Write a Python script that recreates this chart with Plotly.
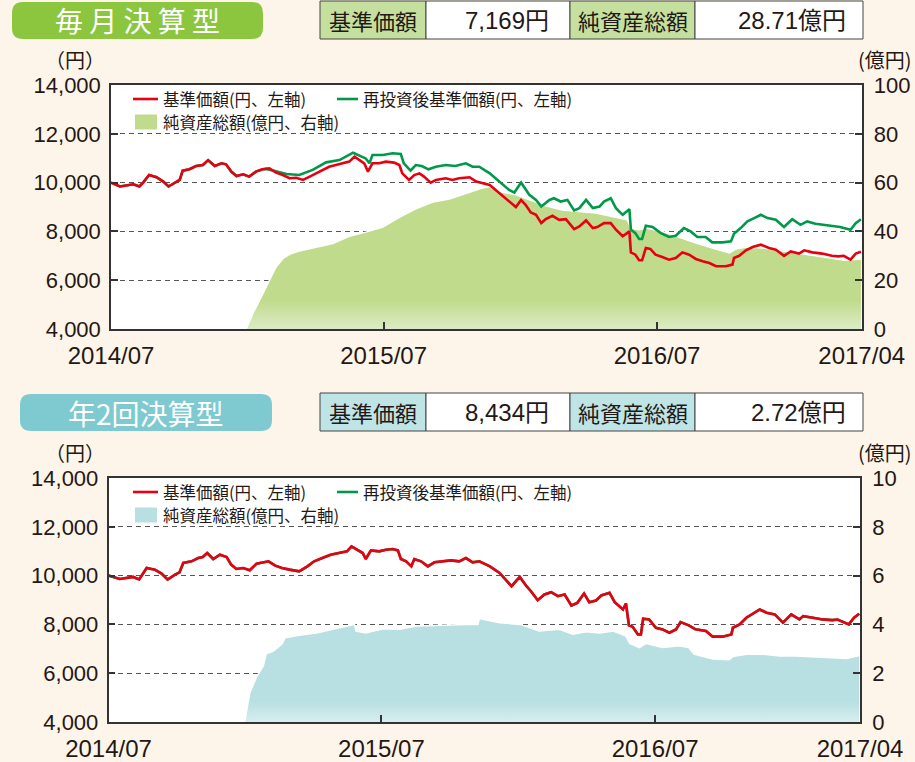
import plotly.graph_objects as go

W, H = 915, 762
BG = "#fdf5e9"
RED = "#e60012"
GREEN = "#00994a"
AREA_G = "#c1db8c"
AREA_G_LIGHT = "#dcebc6"
AREA_T = "#b8dfe1"
AREA_T_LIGHT = "#d8eef0"
BADGE_G = "#8cc63f"
BADGE_T = "#7ecad0"
HEAD_G = "#c5e09e"
HEAD_T = "#bfe4e6"

# ---------------- data: 毎月決算型 ----------------
m_nav_dates = ["2014-07-01", "2014-07-13", "2014-07-31", "2014-08-08", "2014-08-13", "2014-08-21", "2014-08-31",
               "2014-09-09", "2014-09-16", "2014-09-24", "2014-10-01", "2014-10-05", "2014-10-14", "2014-10-23",
               "2014-11-01", "2014-11-08", "2014-11-17", "2014-11-26", "2014-12-02", "2014-12-09", "2014-12-16",
               "2014-12-25", "2015-01-02", "2015-01-11", "2015-01-20", "2015-01-29", "2015-02-07", "2015-02-16",
               "2015-02-25", "2015-03-06", "2015-03-15", "2015-03-24", "2015-04-02", "2015-04-10", "2015-04-19",
               "2015-04-28", "2015-05-07", "2015-05-16", "2015-05-23", "2015-05-30", "2015-06-05", "2015-06-10",
               "2015-06-16", "2015-06-25", "2015-07-04", "2015-07-15", "2015-07-22", "2015-07-26", "2015-08-04",
               "2015-08-11", "2015-08-18", "2015-08-24", "2015-09-02", "2015-09-09", "2015-09-22", "2015-10-01",
               "2015-10-10", "2015-10-24", "2015-11-02", "2015-11-20", "2015-12-03", "2015-12-16", "2015-12-25",
               "2016-01-01", "2016-01-07", "2016-01-14", "2016-01-21", "2016-01-28", "2016-02-03", "2016-02-12",
               "2016-02-21", "2016-03-01", "2016-03-12", "2016-03-19", "2016-03-28", "2016-04-06", "2016-04-12",
               "2016-04-21", "2016-04-30", "2016-05-07", "2016-05-16", "2016-05-25", "2016-05-27", "2016-06-02",
               "2016-06-07", "2016-06-11", "2016-06-16", "2016-06-22", "2016-06-29", "2016-07-08", "2016-07-17",
               "2016-07-26", "2016-08-04", "2016-08-13", "2016-08-22", "2016-08-31", "2016-09-09", "2016-09-18",
               "2016-10-01", "2016-10-10", "2016-10-12", "2016-10-19", "2016-10-28", "2016-11-06", "2016-11-17",
               "2016-11-28", "2016-12-07", "2016-12-18", "2016-12-27", "2017-01-07", "2017-01-14", "2017-01-25",
               "2017-02-07", "2017-02-20", "2017-03-01", "2017-03-08", "2017-03-17", "2017-03-24", "2017-03-31"]
m_nav = [10000, 9840, 9930, 9840, 10000, 10310, 10220,
         10040, 9840, 10000, 10110, 10490, 10550, 10680,
         10720, 10920, 10680, 10790, 10750, 10450, 10270,
         10340, 10245, 10450, 10545, 10585, 10410, 10310,
         10180, 10200, 10110, 10245, 10380, 10520, 10650,
         10720, 10790, 10860, 11060, 10920, 10790, 10450,
         10790, 10790, 10860, 10820, 10720, 10380, 10110,
         10310, 10380, 10245, 10000, 10110, 10180, 10110,
         10180, 10220, 10040, 9900, 9565, 9225, 9000,
         9290, 9090, 8775, 8680, 8340, 8500, 8640,
         8475, 8500, 8095, 8200, 8450, 8135, 8180,
         8340, 8340, 8070, 7800, 8000, 7140, 7045,
         6815, 6815, 7320, 7280, 7045, 6950, 6840,
         6910, 7140, 7045, 6870, 6775, 6705, 6570,
         6570, 6640, 6910, 7000, 7225, 7360, 7455,
         7320, 7250, 7000, 7180, 7090, 7225, 7140,
         7090, 7000, 6975, 7000, 6840, 7090, 7169]

# 再投資後基準価額: identical to 基準価額 until 2015-01-20, then diverges
m_reinv_start = "2015-01-20"
m_reinv_dates = ["2015-01-25", "2015-02-21", "2015-03-10", "2015-03-28", "2015-04-15", "2015-05-03", "2015-05-21",
                 "2015-05-30", "2015-06-07", "2015-06-12", "2015-06-16", "2015-06-30", "2015-07-13", "2015-07-24",
                 "2015-07-28", "2015-08-06", "2015-08-13", "2015-08-21", "2015-08-30", "2015-09-09", "2015-09-22",
                 "2015-10-05", "2015-10-19", "2015-10-28", "2015-11-06", "2015-11-20", "2015-12-03", "2015-12-16",
                 "2015-12-23", "2016-01-01", "2016-01-12", "2016-01-21", "2016-01-28", "2016-02-08", "2016-02-14",
                 "2016-02-23", "2016-03-03", "2016-03-12", "2016-03-19", "2016-03-28", "2016-04-06", "2016-04-15",
                 "2016-04-21", "2016-04-30", "2016-05-07", "2016-05-16", "2016-05-25", "2016-05-27", "2016-06-02",
                 "2016-06-07", "2016-06-11", "2016-06-16", "2016-06-25", "2016-07-06", "2016-07-17", "2016-07-26",
                 "2016-08-06", "2016-08-15", "2016-08-24", "2016-09-04", "2016-09-13", "2016-09-27", "2016-10-08",
                 "2016-10-12", "2016-10-21", "2016-10-30", "2016-11-08", "2016-11-17", "2016-11-26", "2016-12-07",
                 "2016-12-18", "2016-12-29", "2017-01-09", "2017-01-18", "2017-01-29", "2017-02-11", "2017-02-24",
                 "2017-03-03", "2017-03-17", "2017-03-24", "2017-03-31"]
m_reinv = [10560, 10350, 10310, 10520, 10830, 10925, 11225,
           11090, 10990, 10790, 11130, 11130, 11200, 11170,
           10790, 10490, 10720, 10680, 10545, 10650, 10720,
           10680, 10790, 10650, 10650, 10380, 10040, 9700,
           9590, 10000, 9500, 9290, 9020, 9290, 9360,
           9225, 9290, 8860, 8955, 9290, 8955, 9020,
           9225, 9360, 8955, 8680, 8910, 8070, 7930,
           7690, 7690, 8230, 8180, 7930, 7770, 7820,
           8135, 8000, 7770, 7770, 7550, 7550, 7590,
           7900, 8135, 8410, 8545, 8680, 8545, 8475,
           8180, 8500, 8270, 8410, 8310, 8270, 8230,
           8180, 8070, 8340, 8500]

m_aum_dates = ["2014-12-29", "2015-01-07", "2015-01-16", "2015-01-25", "2015-01-29", "2015-02-07", "2015-02-16",
               "2015-02-25", "2015-03-10", "2015-04-02", "2015-04-24", "2015-05-16", "2015-06-07", "2015-06-30",
               "2015-07-22", "2015-08-13", "2015-09-05", "2015-09-27", "2015-10-19", "2015-11-10", "2015-11-20",
               "2015-12-03", "2015-12-25", "2016-01-12", "2016-02-03", "2016-02-25", "2016-03-19", "2016-04-10",
               "2016-05-02", "2016-05-22", "2016-05-27", "2016-06-07", "2016-06-16", "2016-07-08", "2016-07-30",
               "2016-08-22", "2016-09-13", "2016-10-06", "2016-10-15", "2016-10-28", "2016-11-20", "2016-12-12",
               "2017-01-03", "2017-01-25", "2017-02-16", "2017-03-10", "2017-03-31"]
m_aum = [0, 6.4, 11.8, 17.3, 20, 25.4, 28.8,
         30.6, 32, 33.6, 35, 38, 39.7, 41.8,
         45.8, 49.3, 52, 53.3, 55.4, 57.8, 58.4,
         56.3, 55, 53, 50.5, 48.8, 48.2, 47.5,
         46.1, 44.8, 41.4, 40.7, 41.4, 40, 37.7,
         35.2, 33.2, 31.2, 32.8, 33.6, 33.2, 32.2,
         31.2, 30.1, 29.2, 28.2, 28.71]

# ---------------- data: 年2回決算型 ----------------
s_nav_dates = ["2014-07-01", "2014-07-16", "2014-08-03", "2014-08-11", "2014-08-21", "2014-09-01", "2014-09-10",
               "2014-09-18", "2014-09-28", "2014-10-04", "2014-10-09", "2014-10-20", "2014-10-29", "2014-11-04",
               "2014-11-10", "2014-11-18", "2014-11-27", "2014-12-06", "2014-12-12", "2014-12-19", "2014-12-28",
               "2015-01-06", "2015-01-15", "2015-01-24", "2015-01-31", "2015-02-09", "2015-02-18", "2015-02-28",
               "2015-03-13", "2015-03-24", "2015-04-02", "2015-04-13", "2015-04-24", "2015-05-05", "2015-05-16",
               "2015-05-22", "2015-05-30", "2015-06-06", "2015-06-10", "2015-06-17", "2015-06-28", "2015-07-07",
               "2015-07-16", "2015-07-23", "2015-07-27", "2015-08-03", "2015-08-10", "2015-08-14", "2015-08-23",
               "2015-09-01", "2015-09-10", "2015-09-21", "2015-10-02", "2015-10-13", "2015-10-22", "2015-10-31",
               "2015-11-09", "2015-11-23", "2015-12-06", "2015-12-22", "2016-01-02", "2016-01-11", "2016-01-17",
               "2016-01-26", "2016-02-04", "2016-02-13", "2016-02-22", "2016-03-02", "2016-03-11", "2016-03-19",
               "2016-03-28", "2016-04-04", "2016-04-13", "2016-04-20", "2016-05-01", "2016-05-08", "2016-05-19",
               "2016-05-23", "2016-05-27", "2016-06-01", "2016-06-08", "2016-06-12", "2016-06-15", "2016-06-23",
               "2016-07-02", "2016-07-11", "2016-07-20", "2016-07-29", "2016-08-04", "2016-08-15", "2016-08-24",
               "2016-09-07", "2016-09-16", "2016-09-29", "2016-10-11", "2016-10-13", "2016-10-22", "2016-10-31",
               "2016-11-07", "2016-11-18", "2016-11-27", "2016-12-08", "2016-12-19", "2016-12-30", "2017-01-10",
               "2017-01-15", "2017-01-28", "2017-02-10", "2017-02-23", "2017-03-02", "2017-03-17", "2017-03-24",
               "2017-03-31"]
s_nav = [10000, 9860, 9945, 9840, 10310, 10245, 10080,
         9840, 10040, 10136, 10517, 10585, 10720, 10760,
         10925, 10680, 10857, 10760, 10450, 10272, 10313,
         10218, 10490, 10544, 10585, 10408, 10313, 10245,
         10177, 10380, 10585, 10720, 10857, 10925, 10993,
         11197, 11060, 10925, 10680, 11033, 10993, 11060,
         11088, 11033, 10680, 10585, 10380, 10680, 10585,
         10380, 10544, 10585, 10625, 10585, 10720, 10544,
         10585, 10380, 10110, 9565, 9945, 9565, 9360,
         8993, 9225, 9320, 9157, 9225, 8775, 8884,
         9265, 8912, 8980, 9184, 9293, 8912, 8612,
         8857, 7960, 7905, 7590, 7590, 8232, 8204,
         7864, 7796, 7660, 7796, 8095, 7960, 7796,
         7728, 7497, 7497, 7590, 7864, 8000, 8272,
         8408, 8612, 8476, 8408, 8068, 8408, 8204,
         8340, 8272, 8204, 8177, 8200, 8000, 8272,
         8434]
# no distributions paid: 再投資後基準価額 equals 基準価額
s_reinv_dates = s_nav_dates
s_reinv = s_nav

s_aum_dates = ["2014-12-30", "2015-01-06", "2015-01-15", "2015-01-24", "2015-01-28", "2015-02-06", "2015-02-18",
               "2015-02-22", "2015-03-13", "2015-04-05", "2015-04-27", "2015-05-19", "2015-05-26", "2015-05-28",
               "2015-06-10", "2015-07-03", "2015-07-25", "2015-08-17", "2015-09-08", "2015-09-30", "2015-10-22",
               "2015-11-07", "2015-11-09", "2015-12-06", "2016-01-02", "2016-01-28", "2016-02-24", "2016-03-13",
               "2016-03-31", "2016-04-18", "2016-05-06", "2016-05-23", "2016-05-28", "2016-06-10", "2016-06-19",
               "2016-07-11", "2016-08-02", "2016-08-15", "2016-08-22", "2016-09-16", "2016-10-08", "2016-10-13",
               "2016-10-31", "2016-11-23", "2016-12-15", "2017-01-06", "2017-01-28", "2017-02-19", "2017-03-14",
               "2017-03-31"]
s_aum = [0, 1.2, 1.85, 2.3, 2.8, 2.9, 3.2,
         3.45, 3.55, 3.65, 3.8, 3.93, 4.0, 3.73,
         3.65, 3.82, 3.8, 3.93, 3.96, 4.0, 4.0,
         4.0, 4.24, 4.07, 4.0, 3.73, 3.8, 3.6,
         3.7, 3.65, 3.73, 3.52, 3.22, 3.05, 3.22,
         3.05, 3.12, 3.05, 2.78, 2.58, 2.55, 2.68,
         2.78, 2.78, 2.71, 2.71, 2.68, 2.64, 2.6,
         2.72]

x_tickvals = ["2014-07-01", "2015-07-01", "2016-07-01", "2017-04-01"]
x_ticktext = ["2014/07", "2015/07", "2016/07", "2017/04"]
x_range = ["2014-07-01", "2017-04-01"]
nav_ticks = [4000, 6000, 8000, 10000, 12000, 14000]
nav_ticktext = ["4,000", "6,000", "8,000", "10,000", "12,000", "14,000"]
m_aum_ticks = [0, 20, 40, 60, 80, 100]
s_aum_ticks = [0, 2, 4, 6, 8, 10]

panels = [
    dict(title="毎 月 決 算 型", badge=BADGE_G, head=HEAD_G, area=AREA_G, area_light=AREA_G_LIGHT,
         nav_val="7,169円", aum_val="28.71億円"),
    dict(title="年2回決算型", badge=BADGE_T, head=HEAD_T, area=AREA_T, area_light=AREA_T_LIGHT,
         nav_val="8,434円", aum_val="2.72億円"),
]

# combine reinvested series of panel 1 with the common early part
k = sum(1 for d in m_nav_dates if d <= m_reinv_start)
m_reinv_all_dates = m_nav_dates[:k] + m_reinv_dates
m_reinv_all = m_nav[:k] + m_reinv

NUM = "Liberation Sans, Noto Sans CJK JP, sans-serif"
JP = "Noto Sans CJK JP, sans-serif"
INK = "#231815"
AX = "#333333"


def px(x):
    return x / W


def py(y):
    return 1 - y / H


fig = go.Figure()

series = [
    (m_aum_dates, m_aum, m_reinv_all_dates, m_reinv_all, m_nav_dates, m_nav),
    (s_aum_dates, s_aum, s_reinv_dates, s_reinv, s_nav_dates, s_nav),
]
axes = [("x", "y", "y2"), ("x2", "y3", "y4")]

for p, (ad, av, gd, gv, rd, rv), (xa, ya_r, ya_l) in zip(panels, series, axes):
    fig.add_trace(go.Scatter(
        x=ad, y=av, xaxis=xa, yaxis=ya_r, mode="lines", fill="tozeroy",
        line=dict(color="white", width=1.5),
        fillgradient=dict(type="vertical",
                          colorscale=[[0, p["area_light"]], [0.2, p["area"]], [1, p["area"]]]),
        showlegend=False, hoverinfo="skip"))
    fig.add_trace(go.Scatter(x=gd, y=gv, xaxis=xa, yaxis=ya_l, mode="lines",
                             line=dict(color=GREEN, width=2.6), showlegend=False))
    fig.add_trace(go.Scatter(x=rd, y=rv, xaxis=xa, yaxis=ya_l, mode="lines",
                             line=dict(color=RED, width=2.6), showlegend=False))

common_x = dict(type="date", range=x_range, tickvals=x_tickvals, ticktext=x_ticktext,
                ticks="inside", ticklen=7, tickwidth=1.5, tickcolor=AX, automargin=False,
                showline=True, linecolor=AX, linewidth=1.5, mirror=True,
                showgrid=False, zeroline=False, ticklabelstandoff=4,
                tickfont=dict(family=NUM, size=24, color=INK))
common_y = dict(ticks="inside", ticklen=7, tickwidth=1.5, tickcolor=AX, automargin=False,
                showline=True, linecolor=AX, linewidth=1.5, zeroline=False,
                tickfont=dict(family=NUM, size=22, color=INK))

plots = [dict(x0=111, x1=861.7, y0=85, y1=329, aum_range=[0, 100], aum_ticks=m_aum_ticks),
         dict(x0=108.5, x1=860, y0=478, y1=722, aum_range=[0, 10], aum_ticks=s_aum_ticks)]

layout = dict(width=W, height=H, margin=dict(l=0, r=0, t=0, b=0, pad=0), autosize=False,
              paper_bgcolor=BG, plot_bgcolor="white", showlegend=False)
for i, (pl, (xa, ya_r, ya_l)) in enumerate(zip(plots, axes)):
    xkey = "xaxis" if xa == "x" else "xaxis" + xa[1:]
    rkey = "yaxis" if ya_r == "y" else "yaxis" + ya_r[1:]
    lkey = "yaxis" + ya_l[1:]
    layout[xkey] = dict(common_x, domain=[px(pl["x0"]), px(pl["x1"])], anchor=ya_r)
    layout[rkey] = dict(common_y, domain=[py(pl["y1"]), py(pl["y0"])], anchor=xa, side="right",
                        range=pl["aum_range"], tickvals=pl["aum_ticks"],
                        showgrid=True, gridcolor="#555555", gridwidth=1, griddash="5px,4px",
                        ticklabelstandoff=6)
    layout[lkey] = dict(common_y, overlaying=ya_r, anchor=xa, side="left",
                        range=[4000, 14000], tickvals=nav_ticks, ticktext=nav_ticktext,
                        showgrid=False, ticklabelstandoff=4)

fig.update_layout(**layout)

shapes = []
annotations = []


def rrect_path(x0, y0, x1, y1, r):
    rx, ry = r / W, r / H
    X0, X1, Y0, Y1 = px(x0), px(x1), py(y0), py(y1)
    pts = [
        f"M{X0 + rx},{Y0}", f"L{X1 - rx},{Y0}", f"Q{X1},{Y0} {X1},{Y0 - ry}",
        f"L{X1},{Y1 + ry}", f"Q{X1},{Y1} {X1 - rx},{Y1}",
        f"L{X0 + rx},{Y1}", f"Q{X0},{Y1} {X0},{Y1 + ry}",
        f"L{X0},{Y0 - ry}", f"Q{X0},{Y0} {X0 + rx},{Y0}", "Z"]
    return " ".join(pts)


headers = [(12, 263, 2, 39, 0), (20, 272, 394, 431, 392)]
for p, (bx0, bx1, by0, by1, off), pl in zip(panels, headers, plots):
    # badge
    shapes.append(dict(type="path", xref="paper", yref="paper", path=rrect_path(bx0, by0, bx1, by1, 11),
                       fillcolor=p["badge"], line=dict(width=0), layer="above"))
    annotations.append(dict(x=px((bx0 + bx1) / 2), y=py((by0 + by1) / 2), xref="paper", yref="paper",
                            text=p["title"], showarrow=False, xanchor="center", yanchor="middle",
                            font=dict(family=JP, size=28, color="white")))
    # table
    ty0, ty1 = 1 + off, 39 + off
    cells = [320, 426, 570, 695, 863]
    for j in range(4):
        shapes.append(dict(type="rect", xref="paper", yref="paper",
                           x0=px(cells[j]), x1=px(cells[j + 1]), y0=py(ty1), y1=py(ty0),
                           fillcolor=p["head"] if j % 2 == 0 else "white",
                           line=dict(color="#444444", width=1), layer="above"))
    tyc = py((ty0 + ty1) / 2)
    annotations.append(dict(x=px((cells[0] + cells[1]) / 2), y=tyc, xref="paper", yref="paper",
                            text="基準価額", showarrow=False, xanchor="center", yanchor="middle",
                            font=dict(family=JP, size=22, color=INK)))
    annotations.append(dict(x=px((cells[2] + cells[3]) / 2), y=tyc, xref="paper", yref="paper",
                            text="純資産総額", showarrow=False, xanchor="center", yanchor="middle",
                            font=dict(family=JP, size=22, color=INK)))
    annotations.append(dict(x=px(551), y=tyc, xref="paper", yref="paper",
                            text=p["nav_val"], showarrow=False, xanchor="right", yanchor="middle",
                            font=dict(family=NUM, size=24, color=INK)))
    annotations.append(dict(x=px(848), y=tyc, xref="paper", yref="paper",
                            text=p["aum_val"], showarrow=False, xanchor="right", yanchor="middle",
                            font=dict(family=NUM, size=24, color=INK)))
    # unit labels
    uy = py(pl["y0"] - 26)
    annotations.append(dict(x=px(75), y=uy, xref="paper", yref="paper", text="（円）", showarrow=False,
                            xanchor="center", yanchor="middle", font=dict(family=JP, size=20, color=INK)))
    annotations.append(dict(x=px(913), y=uy, xref="paper", yref="paper", text="(億円)", showarrow=False,
                            xanchor="right", yanchor="middle", borderpad=0,
                            font=dict(family=JP, size=20, color=INK)))
    # legend
    l1 = pl["y0"] + 14
    l2 = pl["y0"] + 37
    shapes.append(dict(type="line", xref="paper", yref="paper", x0=px(133), x1=px(158), y0=py(l1), y1=py(l1),
                       line=dict(color=RED, width=2.6)))
    shapes.append(dict(type="line", xref="paper", yref="paper", x0=px(337), x1=px(358), y0=py(l1), y1=py(l1),
                       line=dict(color=GREEN, width=2.6)))
    shapes.append(dict(type="rect", xref="paper", yref="paper", x0=px(135), x1=px(157),
                       y0=py(l2 + 7.5), y1=py(l2 - 7.5), fillcolor=p["area"], line=dict(width=0)))
    for tx, ty, t in [(162, l1, "基準価額(円、左軸)"), (362, l1, "再投資後基準価額(円、左軸)"),
                      (162, l2, "純資産総額(億円、右軸)")]:
        annotations.append(dict(x=px(tx), y=py(ty), xref="paper", yref="paper", text=t, showarrow=False,
                                xanchor="left", yanchor="middle", borderpad=0,
                                font=dict(family=JP, size=16.5, color=INK)))

fig.update_layout(shapes=shapes, annotations=annotations)
fig.write_html("out.html")
